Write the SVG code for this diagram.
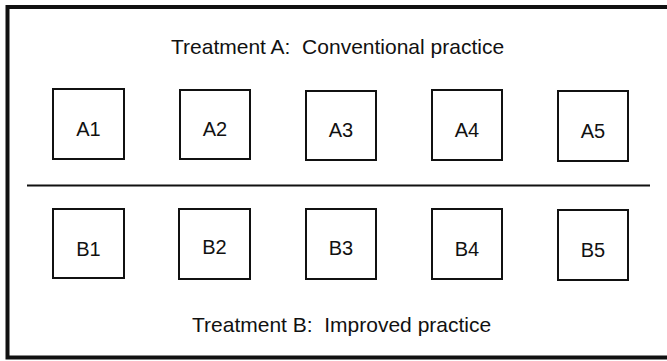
<svg xmlns="http://www.w3.org/2000/svg" width="667" height="361" viewBox="0 0 667 361">
<style>
.box{fill:#fff;stroke:#111;stroke-width:2}
.lbl{font-family:"Liberation Sans",Arial,sans-serif;font-size:20px;fill:#111;text-anchor:middle}
.ttl{font-family:"Liberation Sans",Arial,sans-serif;font-size:21px;fill:#111;white-space:pre}
.frame{fill:none;stroke:#111;stroke-width:4}
</style>
<rect x="0" y="0" width="667" height="361" fill="#fff"/>
<g id="frame">
<polyline class="frame" points="672,7 7.5,7 7.5,357.5 672,357.5"/>
</g>
<g id="connectors">
<line x1="27" y1="185.5" x2="650" y2="185.5" stroke="#111" stroke-width="2"/>
</g>
<g id="title-a"><text class="ttl" xml:space="preserve" x="171" y="54">Treatment A:  Conventional practice</text></g>
<g id="title-b"><text class="ttl" xml:space="preserve" x="192" y="332">Treatment B:  Improved practice</text></g>
<g id="A1"><rect class="box" x="53" y="89" width="71" height="70"/><text class="lbl" x="88.5" y="136">A1</text></g>
<g id="A2"><rect class="box" x="180" y="90" width="70" height="69"/><text class="lbl" x="215" y="136">A2</text></g>
<g id="A3"><rect class="box" x="306" y="91" width="70" height="69"/><text class="lbl" x="341" y="137">A3</text></g>
<g id="A4"><rect class="box" x="432" y="90" width="70" height="70"/><text class="lbl" x="467" y="137">A4</text></g>
<g id="A5"><rect class="box" x="558" y="91" width="70" height="70"/><text class="lbl" x="593" y="138">A5</text></g>
<g id="B1"><rect class="box" x="53" y="209" width="71" height="69"/><text class="lbl" x="88.5" y="256">B1</text></g>
<g id="B2"><rect class="box" x="179" y="209" width="71" height="70"/><text class="lbl" x="214.5" y="254">B2</text></g>
<g id="B3"><rect class="box" x="306" y="209" width="70" height="70"/><text class="lbl" x="341" y="255">B3</text></g>
<g id="B4"><rect class="box" x="432" y="209" width="70" height="70"/><text class="lbl" x="467" y="256">B4</text></g>
<g id="B5"><rect class="box" x="558" y="210" width="70" height="70"/><text class="lbl" x="593" y="257">B5</text></g>
</svg>
